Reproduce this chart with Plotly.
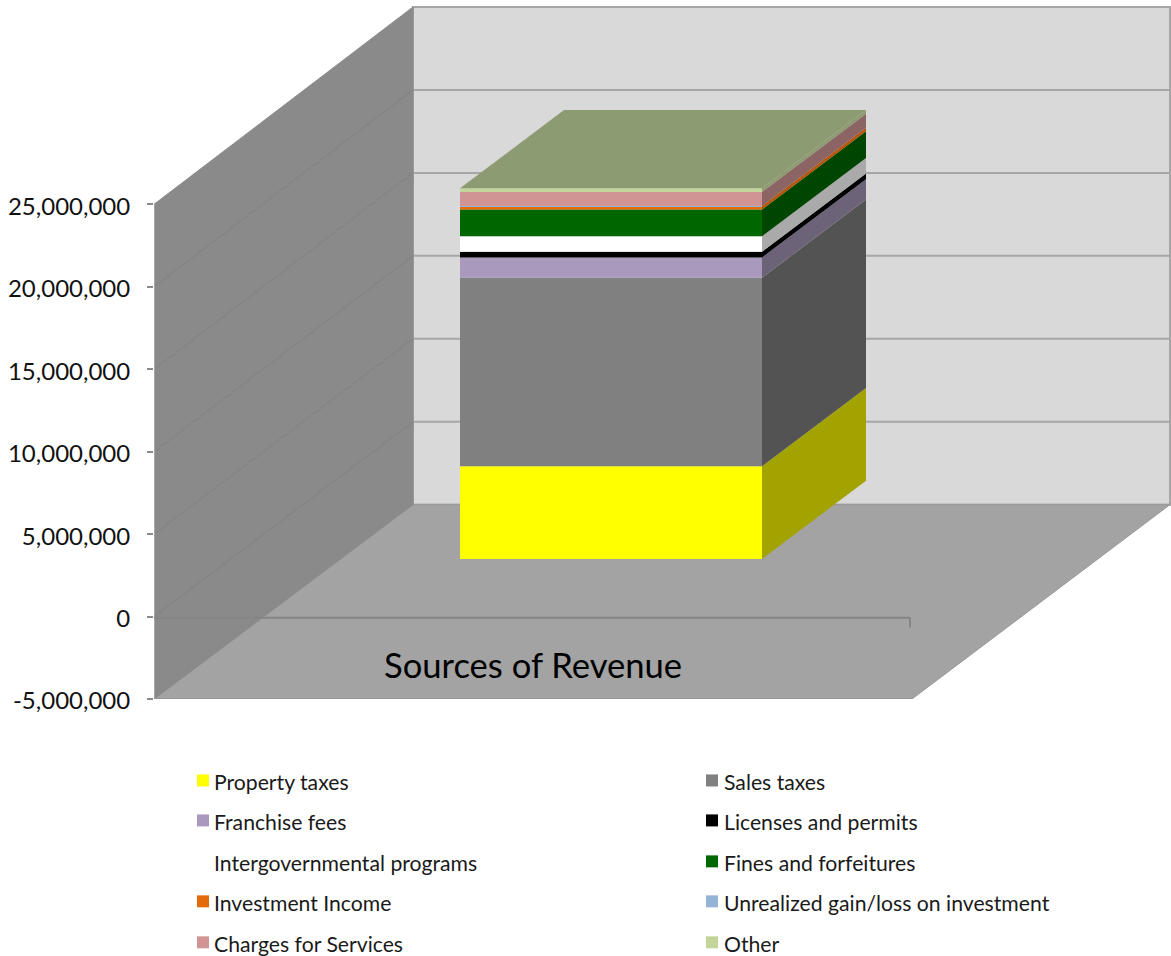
import plotly.graph_objects as go

# ---- data ----
SERIES_NAMES = ["Property taxes", "Sales taxes", "Franchise fees", "Licenses and permits",
                "Intergovernmental programs", "Fines and forfeitures", "Investment Income",
                "Unrealized gain/loss on investment", "Charges for Services", "Other"]
SERIES_VALUES = [5620000, 11430000, 1236000, 340000, 950000, 1620000, 200000, 10000, 850000, 220000]
FRONT_COLORS = ["#ffff00", "#808080", "#a899bd", "#000000", "#ffffff",
                "#006600", "#e36c0a", "#95b3d7", "#d09494", "#c2d69b"]
SIDE_COLORS = ["#a3a300", "#535353", "#6d6379", "#000000", "#aaaaaa",
               "#004500", "#b5560a", "#64789a", "#8d6464", "#8d9b70"]
TOP_COLOR = "#8c9b72"
TICK_VALUES = [-5000000, 0, 5000000, 10000000, 15000000, 20000000, 25000000]
TICK_LABELS = ["-5,000,000", "0", "5,000,000", "10,000,000", "15,000,000", "20,000,000", "25,000,000"]
CATEGORY = "Sources of Revenue"

# ---- page geometry ----
W, H = 1171, 956
L, B_PX = 154, 699.5          # left of plot, pixel row of the axis minimum
PX_PER_UNIT = 82.5 / 5000000
FRONT_W = 758                 # floor width, in x units (= px)
DEPTH_X = 259                 # wall depth in x units
DEPTH_V = 194.5 / PX_PER_UNIT # wall depth in value units
BACK_SCALE = 83 / 82.5        # the back wall is drawn very slightly larger
YMIN, YMAX = -5000000, 25000000
AXIS_TOP = YMIN + B_PX / PX_PER_UNIT
BAR_X0, BAR_X1 = 306, 608
BAR_SHIFT_V = 57.7 / PX_PER_UNIT
BAR_DX = 104
BAR_DV = 78.3 / PX_PER_UNIT
ZERO_LINE_V = -1.2 / PX_PER_UNIT


def path(points):
    return "M " + " L ".join(f"{x},{y}" for x, y in points) + " Z"


def px(x):
    return (x - L) / (W - L)


def py(y):
    return (B_PX - y) / B_PX


def back(v):
    return (v - YMIN) * BACK_SCALE + YMIN + DEPTH_V


shapes = []


def poly(points, fill, line="rgba(0,0,0,0)", w=0):
    shapes.append(dict(type="path", path=path(points), xref="x", yref="y", layer="below",
                       fillcolor=fill, line=dict(color=line, width=w)))


def seg(p0, p1, color, w):
    shapes.append(dict(type="line", x0=p0[0], y0=p0[1], x1=p1[0], y1=p1[1], xref="x", yref="y",
                       layer="below", line=dict(color=color, width=w)))


# back wall, floor, left wall
poly([(DEPTH_X, back(YMIN)), (W - L - 1, back(YMIN)), (W - L - 1, back(YMAX)), (DEPTH_X, back(YMAX))],
     "#d9d9d9", "#a6a6a6", 2)
for v in TICK_VALUES:
    seg((DEPTH_X, back(v)), (W - L - 1, back(v)), "#a6a6a6", 2)
poly([(0, YMIN), (FRONT_W, YMIN), (FRONT_W + DEPTH_X - 1, back(YMIN)), (DEPTH_X, back(YMIN))],
     "#a3a3a3", "#999999", 1)
poly([(0, YMIN), (DEPTH_X, back(YMIN)), (DEPTH_X, back(YMAX)), (0, YMAX)], "#8a8a8a", "#8a8a8a", 1)
for v in TICK_VALUES[1:-1]:
    seg((0, v), (DEPTH_X, back(v)), "#818181", 1)
# y axis line and category axis with its end tick
seg((0, YMIN), (0, YMAX), "#a8a8a8", 2)
seg((0, ZERO_LINE_V), (FRONT_W - 2, ZERO_LINE_V), "#858585", 2)
seg((FRONT_W - 2, ZERO_LINE_V), (FRONT_W - 2, -11 / PX_PER_UNIT), "#858585", 2)
seg((0, YMIN), (FRONT_W, YMIN), "#949494", 2)

fig = go.Figure()
cum = 0
for name, val, front, side in zip(SERIES_NAMES, SERIES_VALUES, FRONT_COLORS, SIDE_COLORS):
    lo = cum + BAR_SHIFT_V
    hi = lo + val
    fig.add_trace(go.Bar(x=[(BAR_X0 + BAR_X1) / 2], y=[val], base=[lo], width=[BAR_X1 - BAR_X0],
                         name=name, marker=dict(color=front, line=dict(width=0)), showlegend=False))
    fig.add_trace(go.Scatter(
        x=[BAR_X1, BAR_X1 + BAR_DX, BAR_X1 + BAR_DX, BAR_X1, BAR_X1],
        y=[lo, lo + BAR_DV, hi + BAR_DV, hi, lo],
        fill="toself", fillcolor=side, mode="lines", line=dict(width=0), name=name,
        showlegend=False, hoverinfo="skip"))
    cum += val
top = cum + BAR_SHIFT_V
fig.add_trace(go.Scatter(
    x=[BAR_X0, BAR_X1, BAR_X1 + BAR_DX, BAR_X0 + BAR_DX, BAR_X0],
    y=[top, top, top + BAR_DV, top + BAR_DV, top],
    fill="toself", fillcolor=TOP_COLOR, mode="lines", line=dict(width=0),
    showlegend=False, hoverinfo="skip"))

annotations = [dict(text=CATEGORY, x=px(533), y=py(665), xref="paper", yref="paper", showarrow=False,
                    xanchor="center", yanchor="middle", font=dict(family="Lato", size=34.6, color="#000000"))]
ROWS = [782, 822, 863, 903, 944]
COLS = [(197, 214), (706, 724)]
for i, (name, color) in enumerate(zip(SERIES_NAMES, FRONT_COLORS)):
    sx, tx = COLS[i % 2]
    row = ROWS[i // 2]
    annotations.append(dict(text=name, x=px(tx), y=py(row), xref="paper", yref="paper", showarrow=False,
                            xanchor="left", yanchor="middle", xshift=-2, yshift=-1,
                            font=dict(family="Lato", size=21.2, color="#1a1a1a")))
    shapes.append(dict(type="rect", xref="paper", yref="paper", x0=px(sx), x1=px(sx + 12),
                       y0=py(row - 7), y1=py(row + 5), fillcolor=color, line=dict(width=0)))

fig.update_layout(
    width=W, height=H, margin=dict(l=L, r=0, t=0, b=H - B_PX, pad=0, autoexpand=False),
    paper_bgcolor="#ffffff", plot_bgcolor="rgba(0,0,0,0)", barmode="overlay", showlegend=False,
    shapes=shapes, annotations=annotations,
    xaxis=dict(range=[0, W - L], visible=False, fixedrange=True),
    yaxis=dict(range=[YMIN, AXIS_TOP], tickmode="array", tickvals=TICK_VALUES, ticktext=TICK_LABELS,
               showgrid=False, zeroline=False, showline=False, ticks="outside", ticklen=6, tickwidth=2,
               tickcolor="#8a8a8a", ticklabelstandoff=12, ticklabelshift=2, fixedrange=True,
               tickfont=dict(family="Lato", size=24, color="#111111")),
)
fig.write_html("out.html", post_script="document.body.style.margin='0';", config=dict(displayModeBar=False))
